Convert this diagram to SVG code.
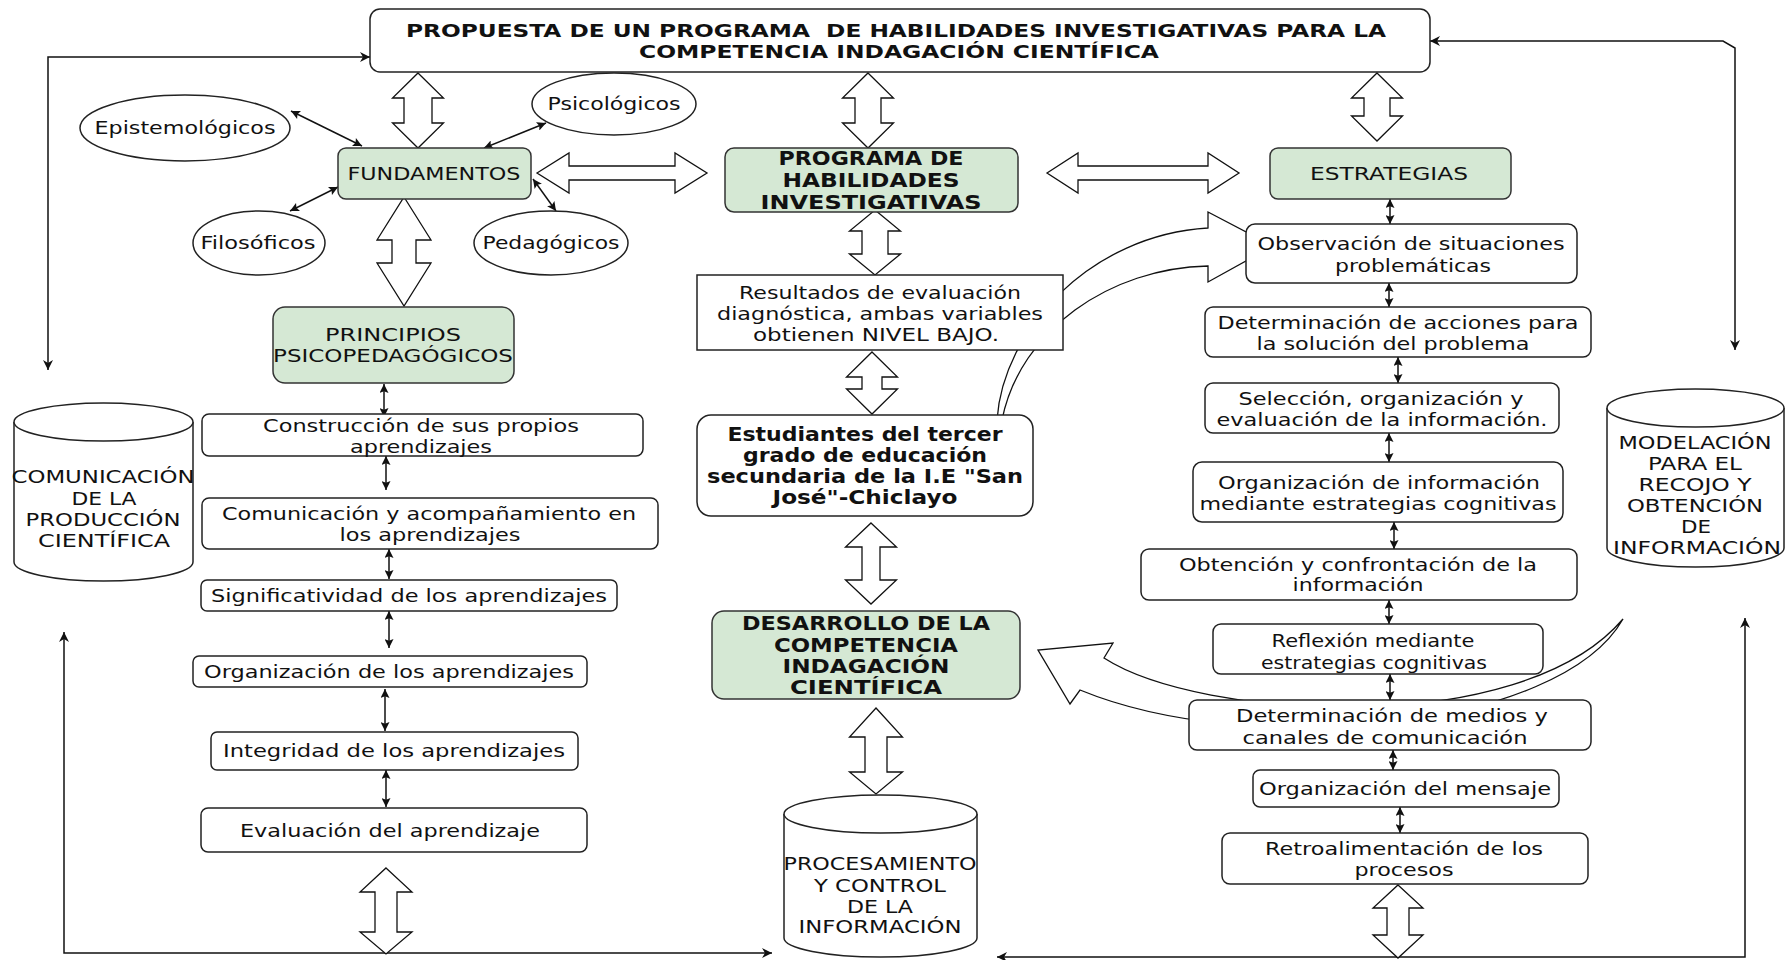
<svg xmlns="http://www.w3.org/2000/svg" width="1787" height="960" viewBox="0 0 1787 960">
<style>
.t{font-family:"DejaVu Sans","Liberation Sans",sans-serif;font-size:18px;fill:#111;text-anchor:middle;dominant-baseline:central}
.b{font-weight:bold;font-size:19px}
.ti{font-weight:bold;font-size:18px}
.box{fill:#fff;stroke:#222;stroke-width:1.5}
.green{fill:#d5e8d4;stroke:#333;stroke-width:1.5}
.blk{fill:#fff;stroke:#111;stroke-width:1.3}
.ln{fill:none;stroke:#111;stroke-width:1.5;marker-start:url(#ah);marker-end:url(#ah)}
.sm{fill:none;stroke:#111;stroke-width:1.5;marker-start:url(#ah2);marker-end:url(#ah2)}
</style>
<defs>
<marker id="ah" viewBox="0 0 10 10" refX="10" refY="5" markerWidth="11" markerHeight="10" markerUnits="userSpaceOnUse" orient="auto-start-reverse"><path d="M0,0 L10,5 L0,10 L3,5 Z" fill="#111"/></marker>
<marker id="ah2" viewBox="0 0 10 10" refX="10" refY="5" markerWidth="10" markerHeight="9" markerUnits="userSpaceOnUse" orient="auto-start-reverse"><path d="M0,0 L10,5 L0,10 L2,5 Z" fill="#111"/></marker>
</defs>
<rect width="1787" height="960" fill="#fff"/>

<g id="connectors">
  <path class="ln" d="M370,57 L48,57 L48,370"/>
  <path class="ln" d="M1430,41 L1723,41 L1735,48 L1735,350"/>
  <path class="ln" d="M64,632 L64,953 L772,953"/>
  <path class="ln" d="M1745,618 L1745,957 L997,957"/>
  <path class="sm" d="M291,111 L362,146"/>
  <path class="sm" d="M484,148 L546,123"/>
  <path class="sm" d="M290,211 L338,187"/>
  <path class="sm" d="M533,179 L556,211"/>
  <path class="sm" d="M384,384 L384,417"/>
  <path class="sm" d="M386,456 L386,490"/>
  <path class="sm" d="M389,549 L389,579"/>
  <path class="sm" d="M389,611 L389,648"/>
  <path class="sm" d="M385,689 L385,731"/>
  <path class="sm" d="M386,770 L386,807"/>
  <path class="sm" d="M1390,199 L1390,224"/>
  <path class="sm" d="M1389,283 L1389,307"/>
  <path class="sm" d="M1398,357 L1398,383"/>
  <path class="sm" d="M1389,433 L1389,462"/>
  <path class="sm" d="M1394,522 L1394,549"/>
  <path class="sm" d="M1389,600 L1389,624"/>
  <path class="sm" d="M1390,674 L1390,700"/>
  <path class="sm" d="M1393,750 L1393,770"/>
  <path class="sm" d="M1400,807 L1400,833"/>
  <path class="blk" d="M418,73 L443.5,98 L432,98 L432,123 L443.5,123 L418,148 L392.5,123 L404,123 L404,98 L392.5,98 Z"/>
  <path class="blk" d="M868,73 L893.5,98 L881,98 L881,123 L893.5,123 L868,148 L842.5,123 L855,123 L855,98 L842.5,98 Z"/>
  <path class="blk" d="M1377,73 L1402.5,98 L1390,98 L1390,116 L1402.5,116 L1377,141 L1351.5,116 L1364,116 L1364,98 L1351.5,98 Z"/>
  <path class="blk" d="M537,173 L569,153 L569,166 L675,166 L675,153 L707,173 L675,193 L675,180 L569,180 L569,193 Z"/>
  <path class="blk" d="M1047,173 L1078,153 L1078,166 L1208,166 L1208,153 L1239,173 L1208,193 L1208,180 L1078,180 L1078,193 Z"/>
  <path class="blk" d="M404,197 L431,240 L416,240 L416,263 L431,263 L404,306 L377,263 L392,263 L392,240 L377,240 Z"/>
  <path class="blk" d="M875,210 L900.5,231 L888,231 L888,254 L900.5,254 L875,275 L849.5,254 L862,254 L862,231 L849.5,231 Z"/>
  <path class="blk" d="M872,352 L897.5,377 L882,377 L882,389 L897.5,389 L872,414 L846.5,389 L862,389 L862,377 L846.5,377 Z"/>
  <path class="blk" d="M871,523 L896.5,547 L880,547 L880,580 L896.5,580 L871,604 L845.5,580 L862,580 L862,547 L845.5,547 Z"/>
  <path class="blk" d="M876,708 L902.5,737 L887,737 L887,772 L902.5,772 L876,794 L849.5,772 L865,772 L865,737 L849.5,737 Z"/>
  <path class="blk" d="M386,868 L412,892 L397,892 L397,932 L412,932 L386,954 L360,932 L375,932 L375,892 L360,892 Z"/>
  <path class="blk" d="M1398,885 L1423,908 L1409,908 L1409,935 L1423,935 L1398,958 L1373,935 L1387,935 L1387,908 L1373,908 Z"/>
  <path class="blk" d="M997,420 C1003,330 1090,235 1208,228 L1208,212 L1273,246 L1208,282 L1208,266 C1110,268 1020,330 1002,420 Z"/>
  <path class="blk" d="M1623,619 C1560,730 1250,760 1080,690 L1070,704 L1038,650 L1113,643 L1104,658 C1200,720 1520,740 1623,619 Z"/>
</g>

<g id="title">
  <rect class="box" x="370" y="9" width="1060" height="63" rx="10"/>
  <text class="t ti" x="896" y="30" textLength="980" lengthAdjust="spacingAndGlyphs">PROPUESTA DE UN PROGRAMA &#160;DE HABILIDADES INVESTIGATIVAS PARA LA</text>
  <text class="t ti" x="899" y="51" textLength="520" lengthAdjust="spacingAndGlyphs">COMPETENCIA INDAGACIÓN CIENTÍFICA</text>
</g>

<g id="epistemologicos">
  <ellipse class="box" cx="185" cy="128" rx="105" ry="33"/>
  <text class="t" x="185" y="127" textLength="181" lengthAdjust="spacingAndGlyphs">Epistemológicos</text>
</g>
<g id="psicologicos">
  <ellipse class="box" cx="614" cy="104" rx="82" ry="31"/>
  <text class="t" x="614" y="103" textLength="133" lengthAdjust="spacingAndGlyphs">Psicológicos</text>
</g>
<g id="filosoficos">
  <ellipse class="box" cx="259" cy="243" rx="66" ry="32"/>
  <text class="t" x="258" y="242" textLength="115" lengthAdjust="spacingAndGlyphs">Filosóficos</text>
</g>
<g id="pedagogicos">
  <ellipse class="box" cx="551" cy="243" rx="77" ry="32"/>
  <text class="t" x="551" y="242" textLength="137" lengthAdjust="spacingAndGlyphs">Pedagógicos</text>
</g>

<g id="fundamentos">
  <rect class="green" x="338" y="148" width="193" height="51" rx="8"/>
  <text class="t" x="434" y="173" font-size="19" textLength="173" lengthAdjust="spacingAndGlyphs">FUNDAMENTOS</text>
</g>

<g id="programa">
  <rect class="green" x="725" y="148" width="293" height="64" rx="9"/>
  <text class="t b" x="871" y="158" textLength="185" lengthAdjust="spacingAndGlyphs">PROGRAMA DE</text>
  <text class="t b" x="871" y="180" textLength="177" lengthAdjust="spacingAndGlyphs">HABILIDADES</text>
  <text class="t b" x="871" y="202" textLength="221" lengthAdjust="spacingAndGlyphs">INVESTIGATIVAS</text>
</g>

<g id="estrategias">
  <rect class="green" x="1270" y="148" width="241" height="51" rx="8"/>
  <text class="t" x="1389" y="173" textLength="158" lengthAdjust="spacingAndGlyphs">ESTRATEGIAS</text>
</g>

<g id="principios">
  <rect class="green" x="273" y="307" width="241" height="76" rx="12"/>
  <text class="t" x="393" y="334" textLength="136" lengthAdjust="spacingAndGlyphs">PRINCIPIOS</text>
  <text class="t" x="393" y="355" textLength="240" lengthAdjust="spacingAndGlyphs">PSICOPEDAGÓGICOS</text>
</g>

<g id="construccion">
  <rect class="box" x="202" y="414" width="441" height="42" rx="7"/>
  <text class="t" x="421" y="425" textLength="316" lengthAdjust="spacingAndGlyphs">Construcción de sus propios</text>
  <text class="t" x="421" y="446" textLength="142" lengthAdjust="spacingAndGlyphs">aprendizajes</text>
</g>
<g id="comunicacion">
  <rect class="box" x="202" y="498" width="456" height="51" rx="7"/>
  <text class="t" x="429" y="513" textLength="414" lengthAdjust="spacingAndGlyphs">Comunicación y acompañamiento en</text>
  <text class="t" x="430" y="534" textLength="181" lengthAdjust="spacingAndGlyphs">los aprendizajes</text>
</g>
<g id="significatividad">
  <rect class="box" x="201" y="580" width="416" height="31" rx="6"/>
  <text class="t" x="409" y="595" textLength="396" lengthAdjust="spacingAndGlyphs">Significatividad de los aprendizajes</text>
</g>
<g id="organizacion-aprendizajes">
  <rect class="box" x="193" y="656" width="394" height="31" rx="6"/>
  <text class="t" x="389" y="671" textLength="370" lengthAdjust="spacingAndGlyphs">Organización de los aprendizajes</text>
</g>
<g id="integridad">
  <rect class="box" x="211" y="732" width="367" height="38" rx="6"/>
  <text class="t" x="394" y="750" textLength="342" lengthAdjust="spacingAndGlyphs">Integridad de los aprendizajes</text>
</g>
<g id="evaluacion">
  <rect class="box" x="201" y="808" width="386" height="44" rx="7"/>
  <text class="t" x="390" y="830" textLength="300" lengthAdjust="spacingAndGlyphs">Evaluación del aprendizaje</text>
</g>

<g id="comunicacion-produccion">
  <path class="box" d="M14,422 A89.5,19 0 0 1 193,422 L193,562 A89.5,19 0 0 1 14,562 Z"/>
  <path class="box" fill="none" d="M14,422 A89.5,19 0 0 0 193,422"/>
  <text class="t" x="103" y="476" textLength="183" lengthAdjust="spacingAndGlyphs">COMUNICACIÓN</text>
  <text class="t" x="104" y="498" textLength="65" lengthAdjust="spacingAndGlyphs">DE LA</text>
  <text class="t" x="103" y="519" textLength="155" lengthAdjust="spacingAndGlyphs">PRODUCCIÓN</text>
  <text class="t" x="104" y="540" textLength="132" lengthAdjust="spacingAndGlyphs">CIENTÍFICA</text>
</g>

<g id="resultados">
  <rect class="box" x="697" y="275" width="366" height="75"/>
  <text class="t" x="880" y="292" textLength="282" lengthAdjust="spacingAndGlyphs">Resultados de evaluación</text>
  <text class="t" x="880" y="313" textLength="326" lengthAdjust="spacingAndGlyphs">diagnóstica, ambas variables</text>
  <text class="t" x="876" y="334" textLength="246" lengthAdjust="spacingAndGlyphs">obtienen NIVEL BAJO.</text>
</g>

<g id="estudiantes">
  <rect class="box" x="697" y="415" width="336" height="101" rx="14"/>
  <text class="t b" x="865" y="434" textLength="275" lengthAdjust="spacingAndGlyphs">Estudiantes del tercer</text>
  <text class="t b" x="865" y="455" textLength="244" lengthAdjust="spacingAndGlyphs">grado de educación</text>
  <text class="t b" x="865" y="476" textLength="316" lengthAdjust="spacingAndGlyphs">secundaria de la I.E "San</text>
  <text class="t b" x="865" y="497" textLength="185" lengthAdjust="spacingAndGlyphs">José"-Chiclayo</text>
</g>

<g id="desarrollo">
  <rect class="green" x="712" y="611" width="308" height="88" rx="12"/>
  <text class="t b" x="866" y="623" textLength="248" lengthAdjust="spacingAndGlyphs">DESARROLLO DE LA</text>
  <text class="t b" x="866" y="645" textLength="184" lengthAdjust="spacingAndGlyphs">COMPETENCIA</text>
  <text class="t b" x="866" y="666" textLength="167" lengthAdjust="spacingAndGlyphs">INDAGACIÓN</text>
  <text class="t b" x="866" y="687" textLength="152" lengthAdjust="spacingAndGlyphs">CIENTÍFICA</text>
</g>

<g id="procesamiento">
  <path class="box" d="M784,814 A96.5,19 0 0 1 977,814 L977,938 A96.5,19 0 0 1 784,938 Z"/>
  <path class="box" fill="none" d="M784,814 A96.5,19 0 0 0 977,814"/>
  <text class="t" x="880" y="863" textLength="193" lengthAdjust="spacingAndGlyphs">PROCESAMIENTO</text>
  <text class="t" x="880" y="885" textLength="132" lengthAdjust="spacingAndGlyphs">Y CONTROL</text>
  <text class="t" x="880" y="906" textLength="66" lengthAdjust="spacingAndGlyphs">DE LA</text>
  <text class="t" x="880" y="926" textLength="163" lengthAdjust="spacingAndGlyphs">INFORMACIÓN</text>
</g>

<g id="observacion">
  <rect class="box" x="1246" y="224" width="331" height="59" rx="9"/>
  <text class="t" x="1411" y="243" textLength="307" lengthAdjust="spacingAndGlyphs">Observación de situaciones</text>
  <text class="t" x="1413" y="265" textLength="156" lengthAdjust="spacingAndGlyphs">problemáticas</text>
</g>
<g id="determinacion-acciones">
  <rect class="box" x="1205" y="307" width="386" height="50" rx="8"/>
  <text class="t" x="1398" y="322" textLength="361" lengthAdjust="spacingAndGlyphs">Determinación de acciones para</text>
  <text class="t" x="1393" y="343" textLength="273" lengthAdjust="spacingAndGlyphs">la solución del problema</text>
</g>
<g id="seleccion">
  <rect class="box" x="1205" y="383" width="354" height="50" rx="8"/>
  <text class="t" x="1381" y="398" textLength="285" lengthAdjust="spacingAndGlyphs">Selección, organización y</text>
  <text class="t" x="1382" y="419" textLength="331" lengthAdjust="spacingAndGlyphs">evaluación de la información.</text>
</g>
<g id="organizacion-informacion">
  <rect class="box" x="1193" y="462" width="370" height="60" rx="9"/>
  <text class="t" x="1379" y="482" textLength="322" lengthAdjust="spacingAndGlyphs">Organización de información</text>
  <text class="t" x="1378" y="503" textLength="357" lengthAdjust="spacingAndGlyphs">mediante estrategias cognitivas</text>
</g>
<g id="obtencion">
  <rect class="box" x="1141" y="549" width="436" height="51" rx="8"/>
  <text class="t" x="1358" y="564" textLength="358" lengthAdjust="spacingAndGlyphs">Obtención y confrontación de la</text>
  <text class="t" x="1358" y="584" textLength="131" lengthAdjust="spacingAndGlyphs">información</text>
</g>
<g id="reflexion">
  <rect class="box" x="1213" y="624" width="330" height="50" rx="8"/>
  <text class="t" x="1373" y="640" textLength="203" lengthAdjust="spacingAndGlyphs">Reflexión mediante</text>
  <text class="t" x="1374" y="662" textLength="226" lengthAdjust="spacingAndGlyphs">estrategias cognitivas</text>
</g>
<g id="determinacion-medios">
  <rect class="box" x="1189" y="700" width="402" height="50" rx="8"/>
  <text class="t" x="1392" y="715" textLength="312" lengthAdjust="spacingAndGlyphs">Determinación de medios y</text>
  <text class="t" x="1385" y="737" textLength="285" lengthAdjust="spacingAndGlyphs">canales de comunicación</text>
</g>
<g id="organizacion-mensaje">
  <rect class="box" x="1253" y="770" width="306" height="37" rx="7"/>
  <text class="t" x="1405" y="788" textLength="292" lengthAdjust="spacingAndGlyphs">Organización del mensaje</text>
</g>
<g id="retroalimentacion">
  <rect class="box" x="1222" y="833" width="366" height="51" rx="8"/>
  <text class="t" x="1404" y="848" textLength="278" lengthAdjust="spacingAndGlyphs">Retroalimentación de los</text>
  <text class="t" x="1404" y="869" textLength="99" lengthAdjust="spacingAndGlyphs">procesos</text>
</g>

<g id="modelacion">
  <path class="box" d="M1607,408 A88.5,19 0 0 1 1784,408 L1784,548 A88.5,19 0 0 1 1607,548 Z"/>
  <path class="box" fill="none" d="M1607,408 A88.5,19 0 0 0 1784,408"/>
  <text class="t" x="1695" y="442" textLength="153" lengthAdjust="spacingAndGlyphs">MODELACIÓN</text>
  <text class="t" x="1695" y="463" textLength="94" lengthAdjust="spacingAndGlyphs">PARA EL</text>
  <text class="t" x="1695" y="484" textLength="113" lengthAdjust="spacingAndGlyphs">RECOJO Y</text>
  <text class="t" x="1695" y="505" textLength="136" lengthAdjust="spacingAndGlyphs">OBTENCIÓN</text>
  <text class="t" x="1696" y="526" textLength="30" lengthAdjust="spacingAndGlyphs">DE</text>
  <text class="t" x="1697" y="547" textLength="168" lengthAdjust="spacingAndGlyphs">INFORMACIÓN</text>
</g>
</svg>
